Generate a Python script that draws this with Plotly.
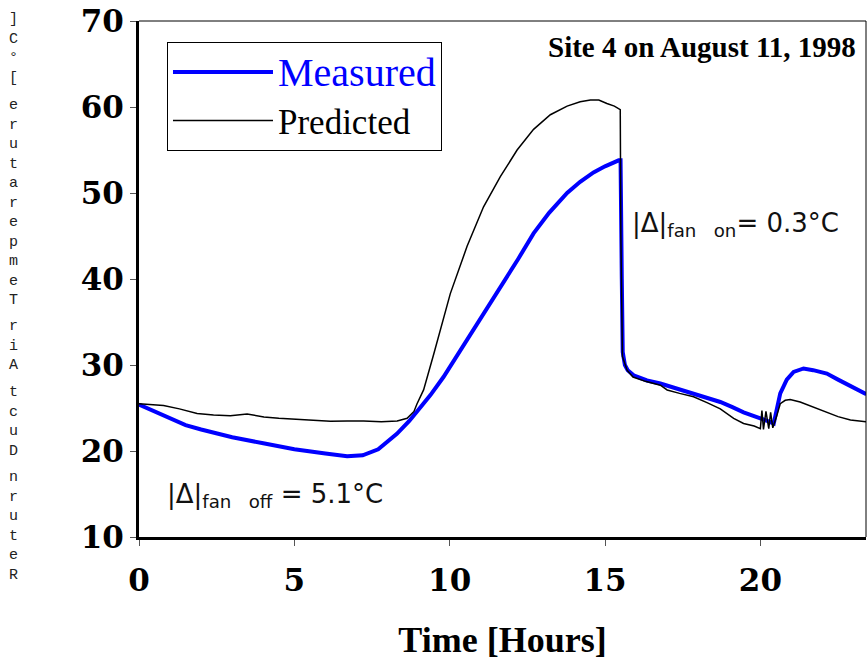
import plotly.graph_objects as go

# ---- data ----
measured_hours = [0, 0.5, 1.0, 1.5, 2.0, 3.0, 4.0, 5.0, 6.0, 6.7, 7.2, 7.7, 8.3, 8.7, 9.06, 9.38,
                  9.8, 10.56, 11.1, 11.63, 12.2, 12.7, 13.2, 13.78, 14.2, 14.63, 15.0, 15.44, 15.50,
                  15.54, 15.57, 15.64, 15.73, 15.92, 16.35, 16.78, 17.3, 17.85, 18.3, 18.71, 19.1,
                  19.46, 20.0, 20.2, 20.43, 20.64, 20.85, 21.07, 21.39, 21.7, 22.14, 22.5, 22.9, 23.41]
measured_temp = [25.4, 24.6, 23.8, 23.0, 22.5, 21.6, 20.9, 20.2, 19.7, 19.4, 19.5, 20.2, 22.0, 23.5,
                 25.1, 26.5, 28.6, 32.9, 36.0, 39.1, 42.3, 45.3, 47.7, 50.0, 51.3, 52.4, 53.1, 53.8,
                 53.8, 40.0, 31.5, 30.0, 29.4, 28.8, 28.2, 27.85, 27.3, 26.7, 26.2, 25.7, 25.1, 24.5,
                 23.8, 23.5, 23.2, 26.7, 28.3, 29.2, 29.6, 29.4, 29.0, 28.3, 27.6, 26.6]

predicted_hours = [0, 0.48, 0.79, 1.3, 1.87, 2.4, 2.94, 3.48, 4.02, 4.5, 5.09, 5.6, 6.16, 6.7, 7.23,
                   7.8, 8.31, 8.63, 8.85, 8.95, 9.16, 9.49, 10.02, 10.56, 11.09, 11.63, 12.17, 12.70,
                   13.24, 13.78, 14.2, 14.53, 14.8, 15.06, 15.3, 15.49, 15.51, 15.56, 15.71, 15.9,
                   16.3, 16.78, 17.0, 17.4, 17.85, 18.3, 18.71, 19.14, 19.46, 19.8, 20.0, 20.05,
                   20.1, 20.18, 20.27, 20.33, 20.40, 20.52, 20.64, 20.8, 20.96, 21.28, 21.7, 22.14,
                   22.5, 22.9, 23.4]
predicted_temp = [25.5, 25.4, 25.3, 24.9, 24.35, 24.2, 24.1, 24.3, 23.96, 23.8, 23.65, 23.6, 23.46,
                  23.5, 23.5, 23.4, 23.5, 23.8, 24.6, 25.5, 27.1, 31.3, 38.3, 43.8, 48.4, 51.9, 55.0,
                  57.4, 59.1, 60.1, 60.6, 60.8, 60.8, 60.4, 60.1, 59.7, 45.0, 31.0, 29.4, 28.6,
                  28.1, 27.65, 27.1, 26.7, 26.3, 25.6, 24.9, 23.8, 23.2, 22.9, 22.6, 24.7, 22.5,
                  24.6, 22.6, 24.5, 22.7, 24.0, 25.5, 25.9, 26.0, 25.7, 25.1, 24.5, 24.0, 23.6, 23.4]

x_ticks = [0, 5, 10, 15, 20]
y_ticks = [10, 20, 30, 40, 50, 60, 70]

y_title = "Return Duct Air Temperature [°C]"
x_title = "Time [Hours]"
site_label = "Site 4 on August 11, 1998"

# ---- figure ----
W, H = 867, 662
ML, MR, MT, MB = 139, 1, 21, 125
PLOT_H = H - MT - MB

fig = go.Figure()
fig.add_trace(go.Scatter(
    x=measured_hours, y=measured_temp, mode="lines",
    name="<span style='color:#0000FF;font-size:40px'>Measured</span>",
    line=dict(color="#0000FF", width=4)))
fig.add_trace(go.Scatter(
    x=predicted_hours, y=predicted_temp, mode="lines",
    name="Predicted",
    line=dict(color="#000000", width=1.5)))

tick_font = dict(family="DejaVu Serif", size=31, color="black", weight="bold")
title_font = dict(family="Liberation Serif", size=36, color="black", weight="bold")

fig.update_layout(
    width=W, height=H,
    margin=dict(l=ML, r=MR, t=MT, b=MB),
    paper_bgcolor="white", plot_bgcolor="white",
    showlegend=True,
    legend=dict(x=0.0385, y=0.96, xanchor="left", yanchor="top",
                bordercolor="black", borderwidth=1, bgcolor="white",
                font=dict(family="Liberation Serif", size=35, color="black"),
                itemwidth=100, tracegroupgap=0),
    xaxis=dict(range=[0, 23.4], tickvals=x_ticks, showgrid=False, zeroline=False,
               showline=True, linecolor="black", linewidth=3,
               ticks="outside", ticklen=6, tickcolor="#555", tickwidth=1,
               tickfont=tick_font, ticklabelstandoff=8,
               title=dict(text=x_title, font=title_font, standoff=30)),
    yaxis=dict(range=[10, 70], tickvals=y_ticks, showgrid=False, zeroline=False,
               showline=True, linecolor="black", linewidth=3,
               ticks="outside", ticklen=6, tickcolor="#555", tickwidth=1,
               tickfont=tick_font),
)

# thin top / right frame
fig.add_shape(type="line", xref="paper", yref="paper", x0=0, x1=1, y0=1, y1=1,
              line=dict(color="black", width=1))
fig.add_shape(type="line", xref="paper", yref="paper", x0=1, x1=1, y0=0, y1=1,
              line=dict(color="black", width=1))

# stacked vertical y-axis title: one annotation per word, letters stacked bottom-to-top
words = list(reversed(y_title.split(" ")))
stack_font = 15
line_step = stack_font * 1.3
top_px, bottom_px = 20, 575
n_lines = sum(len(w) for w in words)
gap = (bottom_px - top_px - (n_lines - len(words)) * line_step) / (len(words) - 1)
cursor = top_px
for w in words:
    span = (len(w) - 1) * line_step
    center_px = cursor + span / 2
    fig.add_annotation(
        text="<br>".join(reversed(w)),
        xref="paper", yref="paper", x=(14 - ML) / (W - ML - MR),
        y=(H - MB - center_px) / PLOT_H,
        xanchor="center", yanchor="middle", showarrow=False, align="center",
        font=dict(family="Liberation Mono", size=stack_font, color="#222"))
    cursor += span + gap

fig.add_annotation(text=site_label, xref="paper", yref="paper", x=0.989, y=0.9487,
                   xanchor="right", yanchor="middle", showarrow=False,
                   font=dict(family="Liberation Serif", size=29, color="black", weight="bold"))

fig.add_annotation(text="|Δ|<sub>fan\u00a0\u00a0\u00a0on</sub>= 0.3°C", xref="paper", yref="paper",
                   x=0.675, y=0.6056, xanchor="left", yanchor="middle", showarrow=False,
                   font=dict(family="DejaVu Sans", size=26, color="#111"))
fig.add_annotation(text="|Δ|<sub>fan\u00a0\u00a0\u00a0off</sub> = 5.1°C", xref="paper", yref="paper",
                   x=0.036, y=0.080, xanchor="left", yanchor="middle", showarrow=False,
                   font=dict(family="DejaVu Sans", size=26, color="#111"))

fig.write_html("out.html", config={"displayModeBar": False},
               post_script="document.body.style.margin='0';")
